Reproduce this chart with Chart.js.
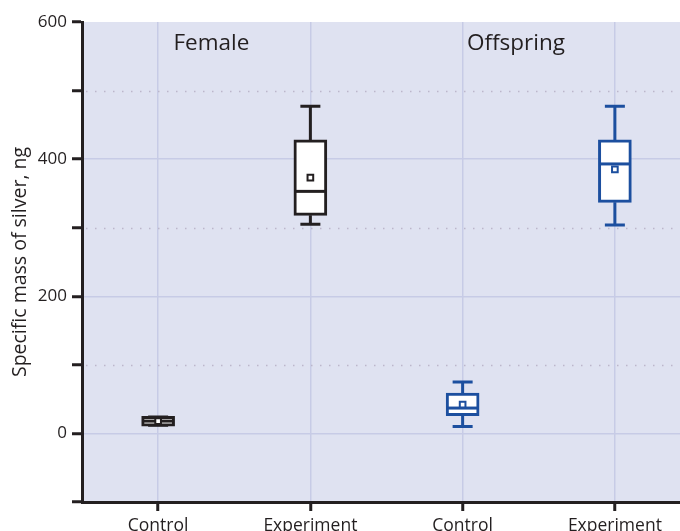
<!DOCTYPE html>
<html>
<head>
<meta charset="utf-8">
<script src="https://cdn.jsdelivr.net/npm/chart.js@4/dist/chart.umd.min.js"></script>
<style>
html,body{margin:0;padding:0;background:#fff;overflow:hidden;width:680px;height:531px;}
#wrap{position:absolute;left:0;top:0;width:697px;height:531px;}
</style>
</head>
<body>
<div id="wrap"><canvas id="c" width="697" height="531"></canvas></div>
<script>
// ---- data ----
const categories = ['Control', 'Experiment', 'Control', 'Experiment'];
const whiskerMin = [12, 305, 10, 304];
const q1Values   = [10.5, 318, 26, 337];
const medians    = [18, 353, 37, 393];
const q3Values   = [25, 428, 59, 428];
const whiskerMax = [24, 477, 75, 477];
const means      = [18, 373, 42, 385];
const groupLabels = ['Female', 'Offspring'];
const groupLabelPos = [0.35, 2.35];
const groupLabelY = 568;
const majorTicks = [0, 200, 400, 600];
const minorTicks = [100, 300, 500];

const BLACK = '#231f20';
const BLUE = '#1c4f9f';
const seriesColors = [BLACK, BLACK, BLUE, BLUE];
const GRID = '#c7cbe6';
const BG = '#dfe2f1';
const FONT = "'Open Sans', 'Noto Sans', sans-serif";

const boxPlugin = {
  id: 'boxExtras',
  beforeDraw(chart) {
    const {ctx, chartArea: a} = chart;
    ctx.save();
    ctx.fillStyle = BG;
    ctx.fillRect(a.left, a.top, a.right - a.left, a.bottom - a.top);
    ctx.restore();
  },
  beforeDatasetsDraw(chart) {
    const {ctx, chartArea: a, scales: {x, y}} = chart;
    ctx.save();
    // dotted minor grid lines
    ctx.strokeStyle = '#bcb6cb';
    ctx.lineWidth = 1.5;
    ctx.setLineDash([1.5, 7.5]);
    minorTicks.forEach(v => {
      const py = Math.round(y.getPixelForValue(v)) + 0.5;
      ctx.beginPath();
      ctx.moveTo(a.left + 4, py);
      ctx.lineTo(a.right, py);
      ctx.stroke();
    });
    ctx.setLineDash([]);
    // whiskers
    categories.forEach((c, i) => {
      const px = x.getPixelForValue(i);
      ctx.strokeStyle = seriesColors[i];
      ctx.lineWidth = 3;
      const yMin = y.getPixelForValue(whiskerMin[i]);
      const yMax = y.getPixelForValue(whiskerMax[i]);
      const yQ1 = y.getPixelForValue(q1Values[i]);
      const yQ3 = y.getPixelForValue(q3Values[i]);
      ctx.beginPath();
      ctx.moveTo(px, yQ3); ctx.lineTo(px, yMax);
      ctx.moveTo(px - 10, yMax); ctx.lineTo(px + 10, yMax);
      ctx.moveTo(px, yQ1); ctx.lineTo(px, yMin);
      ctx.moveTo(px - 10, yMin); ctx.lineTo(px + 10, yMin);
      ctx.stroke();
    });
    // group labels
    ctx.fillStyle = BLACK;
    ctx.font = "22.5px " + FONT;
    ctx.textAlign = 'center';
    ctx.textBaseline = 'middle';
    groupLabels.forEach((t, i) => {
      ctx.fillText(t, x.getPixelForValue(groupLabelPos[i]), y.getPixelForValue(groupLabelY));
    });
    ctx.restore();
  },
  afterDatasetDraw(chart, args) {
    if (args.index !== 0) return;
    const {ctx, scales: {x, y}} = chart;
    ctx.save();
    categories.forEach((c, i) => {
      const px = x.getPixelForValue(i);
      const py = y.getPixelForValue(medians[i]);
      ctx.strokeStyle = seriesColors[i];
      ctx.lineWidth = 3;
      ctx.beginPath();
      ctx.moveTo(px - 15, py); ctx.lineTo(px + 15, py);
      ctx.stroke();
    });
    ctx.restore();
  }
};

new Chart(document.getElementById('c'), {
  data: {
    labels: categories,
    datasets: [
      {
        type: 'bar',
        data: categories.map((c, i) => [q1Values[i], q3Values[i]]),
        backgroundColor: '#ffffff',
        borderColor: seriesColors,
        borderWidth: 3,
        borderSkipped: false,
        barThickness: 33,
        order: 2
      },
      {
        type: 'line',
        data: means,
        showLine: false,
        pointStyle: 'rect',
        pointRadius: 4,
        pointBorderWidth: 2,
        pointBackgroundColor: '#ffffff',
        pointBorderColor: seriesColors,
        order: 1
      }
    ]
  },
  options: {
    responsive: false,
    animation: false,
    events: [],
    layout: {padding: {top: 22, left: 0, right: 0, bottom: 0}},
    plugins: {legend: {display: false}, tooltip: {enabled: false}},
    scales: {
      x: {
        type: 'category',
        offset: true,
        afterFit(s) { s.height = 29; },
        grid: {
          offset: false,
          color: GRID,
          lineWidth: 1.5,
          tickColor: BLACK,
          tickLength: 9,
          tickWidth: 3
        },
        border: {color: BLACK, width: 3},
        ticks: {color: BLACK, font: {family: FONT, size: 17.5}, padding: 5, maxRotation: 0}
      },
      y: {
        min: -100,
        max: 600,
        afterFit(s) { s.width = 82; },
        afterBuildTicks(s) {
          s.ticks = [-100].concat(majorTicks, minorTicks).sort((a, b) => a - b).map(v => ({value: v}));
        },
        grid: {
          color: ctx => (majorTicks.includes(ctx.tick.value) && ctx.tick.value < 600) ? GRID : 'rgba(0,0,0,0)',
          lineWidth: 1.5,
          tickColor: BLACK,
          tickLength: 10,
          tickWidth: 3
        },
        border: {color: BLACK, width: 3},
        ticks: {
          color: BLACK,
          font: {family: FONT, size: 17},
          padding: 5,
          callback: v => majorTicks.includes(v) ? String(v) : ''
        },
        title: {
          display: true,
          text: 'Specific mass of silver, ng',
          color: BLACK,
          font: {family: FONT, size: 19.5},
          padding: {top: 9, bottom: 0}
        }
      }
    }
  },
  plugins: [boxPlugin]
});
</script>
</body>
</html>
